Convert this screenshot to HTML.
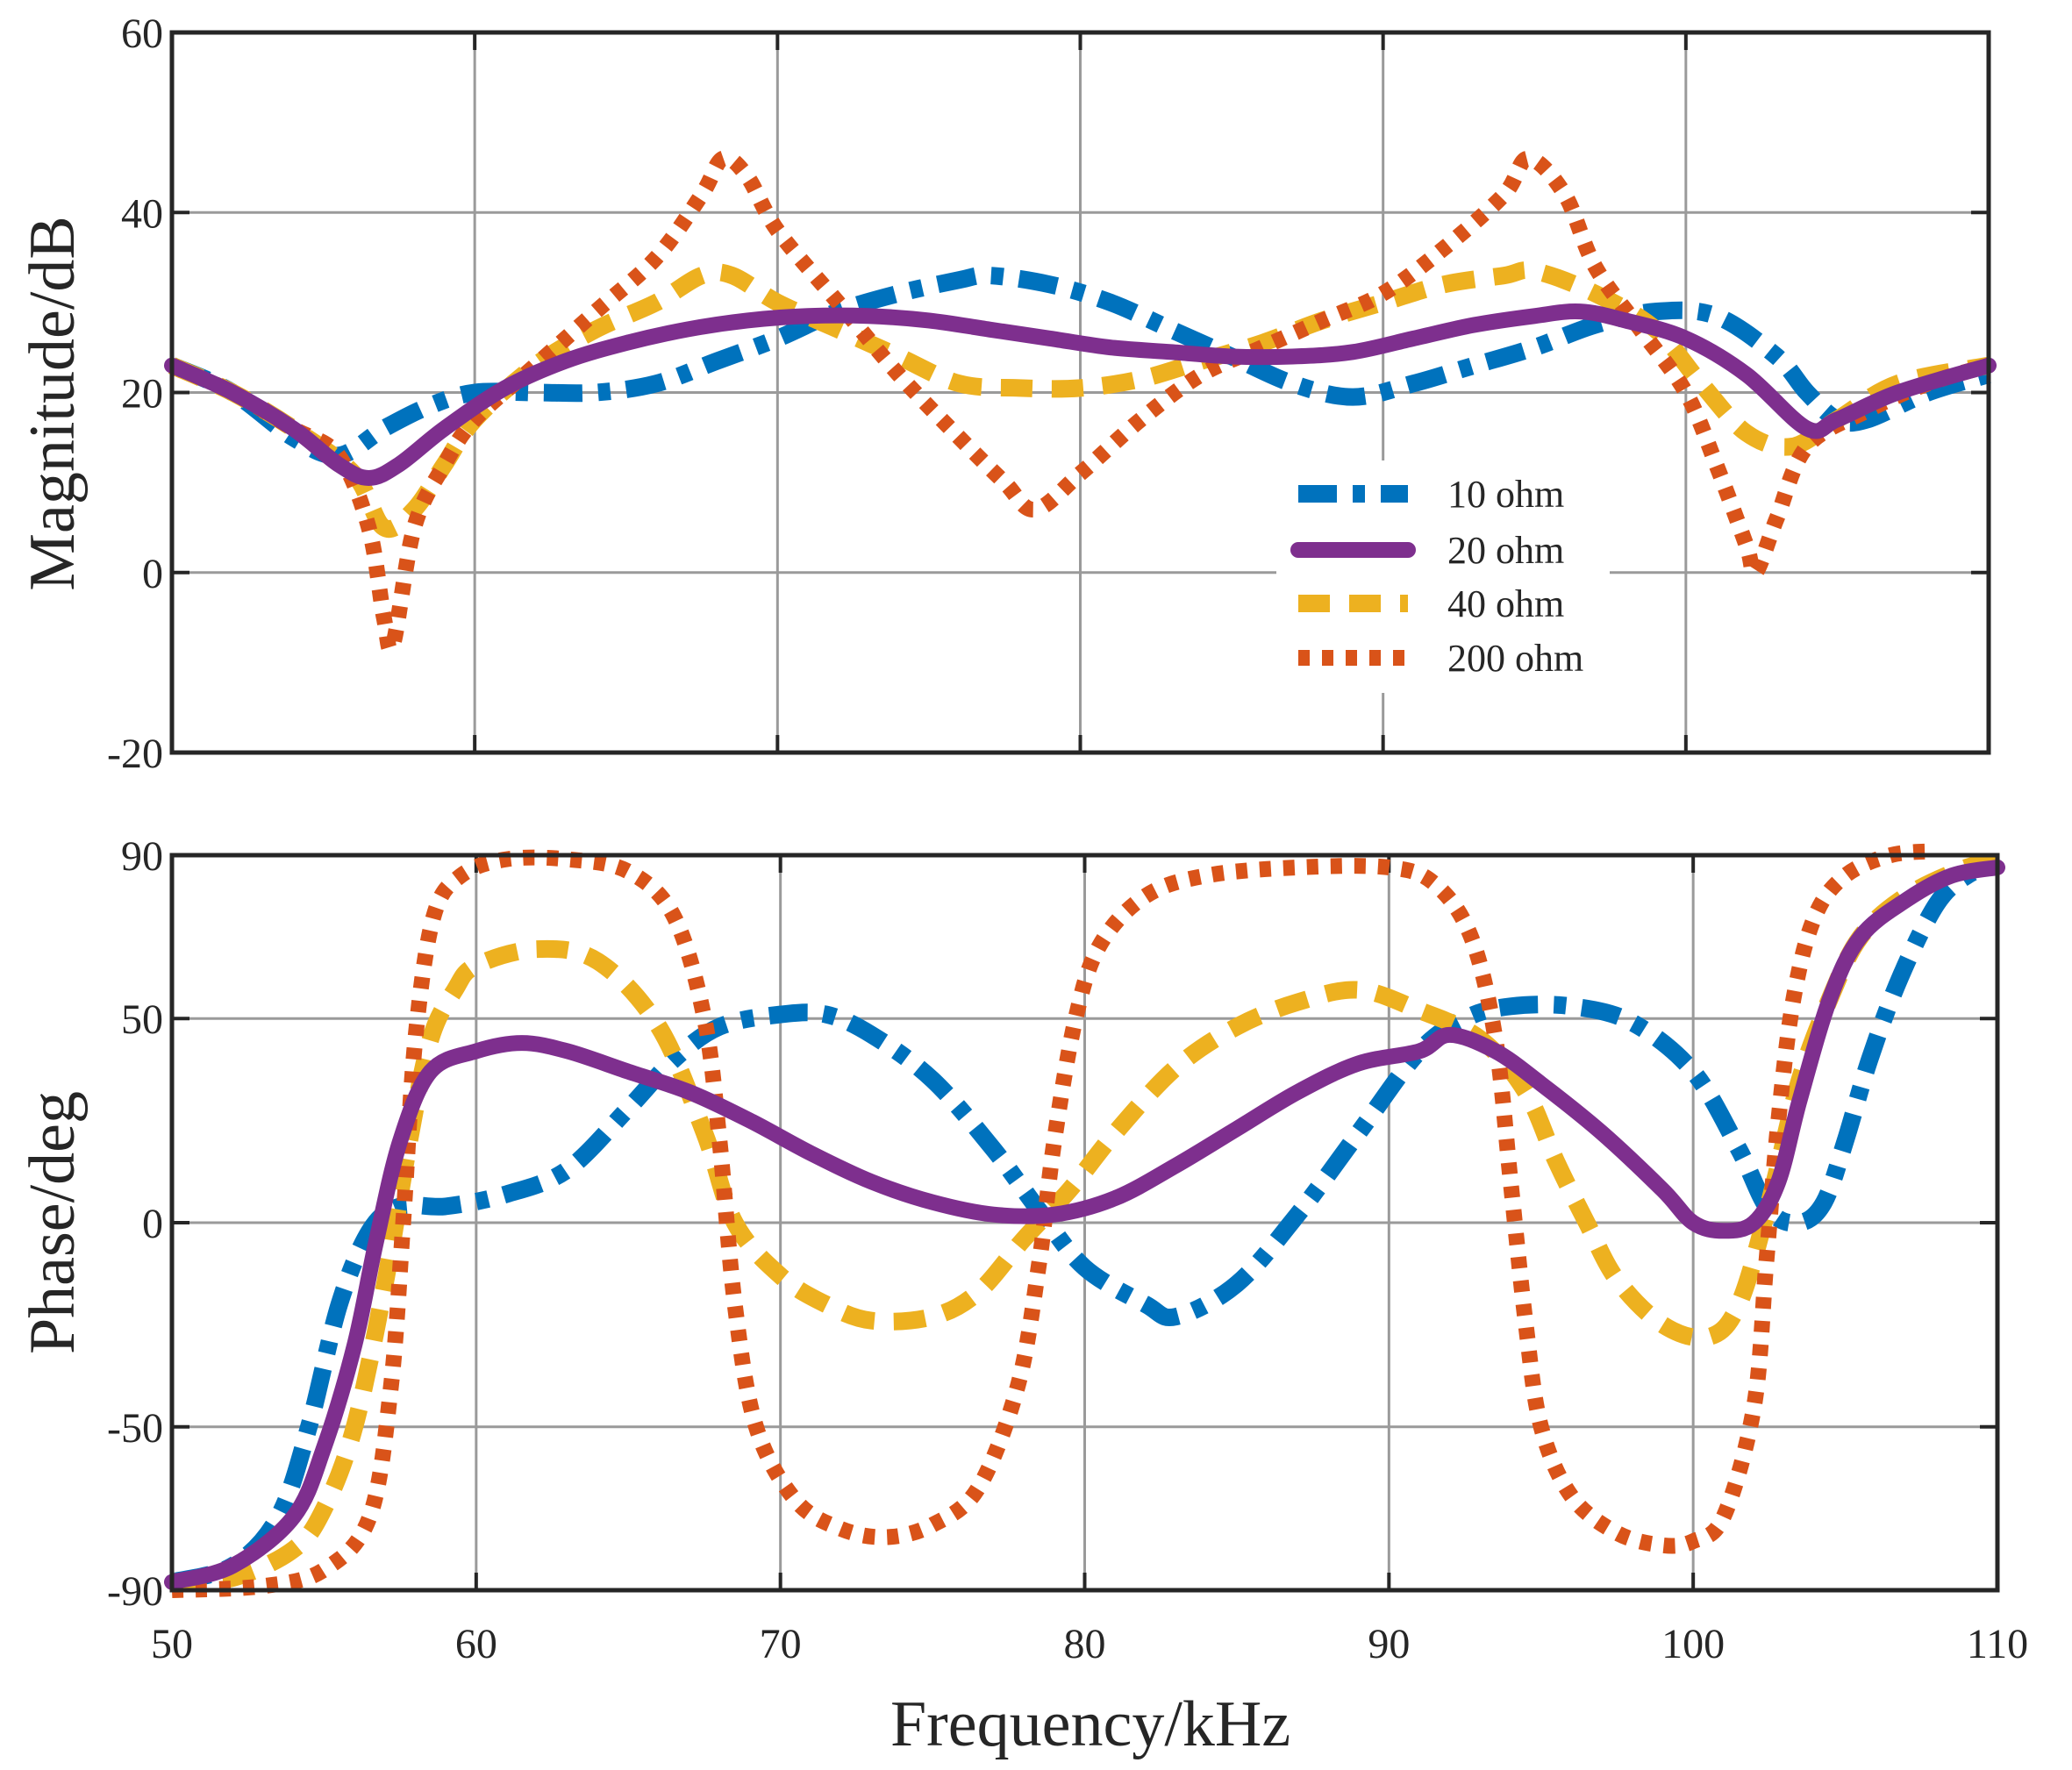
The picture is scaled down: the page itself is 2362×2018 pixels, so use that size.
<!DOCTYPE html>
<html><head><meta charset="utf-8"><style>
html,body{margin:0;padding:0;background:#fff}
svg{display:block}
text{font-family:"Liberation Serif",serif;fill:#262626}
</style></head><body>
<svg id="s" width="2362" height="2018" viewBox="0 0 2362 2018" xmlns="http://www.w3.org/2000/svg">
<g id="g"></g>
<text x="1015" y="1990" font-size="74" fill="#000">Frequency/kHz</text>
<text transform="translate(84,460) rotate(-90)" text-anchor="middle" font-size="74" fill="#000">Magnitude/dB</text>
<text transform="translate(84,1394) rotate(-90)" text-anchor="middle" font-size="74" fill="#000">Phase/deg</text>
</svg>
<script>
var NS="http://www.w3.org/2000/svg",G=document.getElementById('g');
function el(t,a,txt){var e=document.createElementNS(NS,t);for(var k in a)e.setAttribute(k,a[k]);if(txt!=null)e.textContent=txt;G.appendChild(e);return e;}
var P1={x0:196,x1:2267,y0:37,y1:858,ymin:-20,ymax:60,yt:[60,40,20,0,-20]};
var P2={x0:196,x1:2277,y0:975,y1:1813,ymin:-90,ymax:90,yt:[90,50,0,-50,-90]};
function mx(P,f){return P.x0+(f-50)/60*(P.x1-P.x0);}
function my(P,v){return P.y1-(v-P.ymin)/(P.ymax-P.ymin)*(P.y1-P.y0);}
function axes(P,xl){
 for(var f=60;f<110;f+=10){var x=mx(P,f);el('line',{x1:x,x2:x,y1:P.y0,y2:P.y1,stroke:'#9a9a9a','stroke-width':3});
  el('line',{x1:x,x2:x,y1:P.y0,y2:P.y0+20,stroke:'#262626','stroke-width':4});el('line',{x1:x,x2:x,y1:P.y1,y2:P.y1-20,stroke:'#262626','stroke-width':4});}
 P.yt.forEach(function(v){var y=my(P,v);
  if(v!=P.ymin&&v!=P.ymax){el('line',{x1:P.x0,x2:P.x1,y1:y,y2:y,stroke:'#9a9a9a','stroke-width':3});
  el('line',{x1:P.x0,x2:P.x0+20,y1:y,y2:y,stroke:'#262626','stroke-width':4});el('line',{x1:P.x1,x2:P.x1-20,y1:y,y2:y,stroke:'#262626','stroke-width':4});}
  el('text',{x:P.x0-10,y:y+17,'font-size':48,'text-anchor':'end'},String(v));});
 if(xl)for(var f=50;f<=110;f+=10)el('text',{x:mx(P,f),y:1890,'font-size':48,'text-anchor':'middle'},String(f));
}
function border(P){el('rect',{x:P.x0,y:P.y0,width:P.x1-P.x0,height:P.y1-P.y0,fill:'none',stroke:'#262626','stroke-width':5});}
function path(P,d){var pts=[];for(var i=0;i<d.length;i+=2)pts.push([mx(P,d[i]),my(P,d[i+1])]);
 var s='M'+pts[0][0]+','+pts[0][1];
 for(var i=0;i<pts.length-1;i++){var p0=pts[i-1]||pts[i],p1=pts[i],p2=pts[i+1],p3=pts[i+2]||p2;
  s+='C'+(p1[0]+(p2[0]-p0[0])/6)+','+(p1[1]+(p2[1]-p0[1])/6)+' '+(p2[0]-(p3[0]-p1[0])/6)+','+(p2[1]-(p3[1]-p1[1])/6)+' '+p2[0]+','+p2[1];}
 return s;}
var ST={b:{stroke:'#0072BD','stroke-width':20,'stroke-dasharray':'44 18 14 18'},
 p:{stroke:'#7E2F8E','stroke-width':18},
 y:{stroke:'#EDB120','stroke-width':20,'stroke-dasharray':'36 22'},
 r:{stroke:'#D95319','stroke-width':18,'stroke-dasharray':'13 14'}};
function draw(P,d,k){var a={d:path(P,d),fill:'none','stroke-linejoin':'round'};for(var q in ST[k])a[q]=ST[k][q];if(k=='p')a['stroke-linecap']='round';el('path',a);}
axes(P1,false);axes(P2,true);
var T={
b:[50,23,52,20,54,15,55.5,13,57,16,58.5,18.5,60,20,62,20,64,20,66,21,68,23.5,70,26,72,29,74,31,76,32.5,77,33,79,32,81,30,83,27,85,24,87,21,89,19.5,91,21,93,23,95,25,97,27.5,99,29,101,28.5,103,24,104,20,105,17,106,17,108,20,110,22],
y:[50,23,52,20,54,16,56,11,57,5,58,7,59,12,60,17,62,23,64,27,66,30,67.5,33,68.5,33,70,30,72,27,74,24,76,21,78,20.5,80,20.5,82,21.5,84,23.5,86,25.5,88,28,90,30,92,32,94,33,95,33.5,97,31,99,27,100.5,21,102,15.5,103.5,14,105,17,107,21,110,23],
r:[50,23,52,20,54,16,55.5,13,56.5,5,57,-5,57.3,-8,58,5,59,12,60,17,62,23,64,29,66,35,67.5,42,68.2,46,69,44,70,38,72,30,74,22,76,15,77.5,10,78.5,7,80,11,82,17,84,22,86,25,88,28,90,31,92,36,94,42,94.8,46,96,42,97,34,98.5,27,100,20,101,12,102,3,102.3,0,103,6,104,14,106,18,108,21,110,23],
p:[50,23,52,20,54,16,55.5,12,56.5,10.5,57.5,12,59,16,61,20.5,63,23.5,65,25.5,67,27,69,28,71,28.5,73,28.5,75,28,77,27,79,26,81,25,83,24.5,85,24,87,24,89,24.5,91,26,93,27.5,95,28.5,96.5,29,98,28,100,26,102,22,104,16,105,17,107,20,110,23]};
var B={
b:[50,-88,52,-84,53.5,-72,54.5,-50,55.5,-20,56.5,-2,57.5,4,59,4,61,7,63,13,65,28,66.5,40,68,48,70,51,71.5,51,73,46,75,35,77,18,78.5,3,80,-11,82,-20,83,-23,85,-15,87,2,89,22,91,42,92.5,50,94,53,96,53,98,49,100,37,101.5,18,102.5,3,103.5,0,104.3,5,105,20,105.8,40,106.8,60,108,78,109,85,110,88],
y:[50,-88,52,-87,54,-80,55,-70,56,-50,57,-15,57.8,20,58.5,45,59.3,57,60,63,62,67,64,64,66,48,67.5,22,68.5,0,70,-13,71.5,-20,73,-24,75,-23,76.5,-17,78,-4,79.5,8,81,22,83,38,85,48,87,54,89,57,91,52,93,45,94.5,32,95.5,15,96.5,0,97.5,-14,99,-25,100.5,-28,101.5,-20,102.5,5,103.5,35,104.5,55,105.5,70,107,80,109,87,110,88],
r:[50,-90,53,-89,55,-85,56.5,-72,57.2,-40,57.6,0,58,45,58.6,75,59.5,85,61,89,63,89,65,86,66.5,75,67.5,50,68,20,68.5,-20,69.2,-50,70.5,-68,72,-75,73.5,-77,75,-74,76.5,-65,77.8,-40,78.5,-10,79,20,79.7,50,80.5,68,82,80,84,85,87,87,90,87,91.5,83,92.7,70,93.5,45,94,10,94.5,-25,95,-50,96,-67,97.5,-76,99,-79,100,-78,101,-72,102,-45,102.4,-10,102.8,25,103.3,55,104,75,105,85,106.5,90,108,91],
p:[50,-88,52,-84,54,-72,55,-55,56,-30,56.7,-5,57.5,20,58.5,37,60,42,61.5,44,63,42,65,37,67,32,69,25,71,17,73,10,75,5,77,2,79,2,81,6,83,14,85,23,87,32,89,39,91,42,92,46,93.5,42,95,34,97,22,99,8,100,0,101,-2,102,0,102.8,10,103.5,30,104.5,55,105.5,70,107,79,108.5,85,110,87]};
['b','y','r','p'].forEach(function(k){draw(P1,T[k],k);});
['b','y','r','p'].forEach(function(k){draw(P2,B[k],k);});
border(P1);border(P2);
el('rect',{x:1455,y:525,width:380,height:265,fill:'#fff'});
var L=[['b','10 ohm',563],['p','20 ohm',627],['y','40 ohm',688],['r','200 ohm',750]];
L.forEach(function(l){var a={x1:1480,x2:1605,y1:l[2],y2:l[2]};for(var q in ST[l[0]])a[q]=ST[l[0]][q];if(l[0]=='p')a['stroke-linecap']='round';el('line',a);
 el('text',{x:1650,y:l[2]+15,'font-size':44,fill:'#000'},l[1]);});
</script>
</body></html>
